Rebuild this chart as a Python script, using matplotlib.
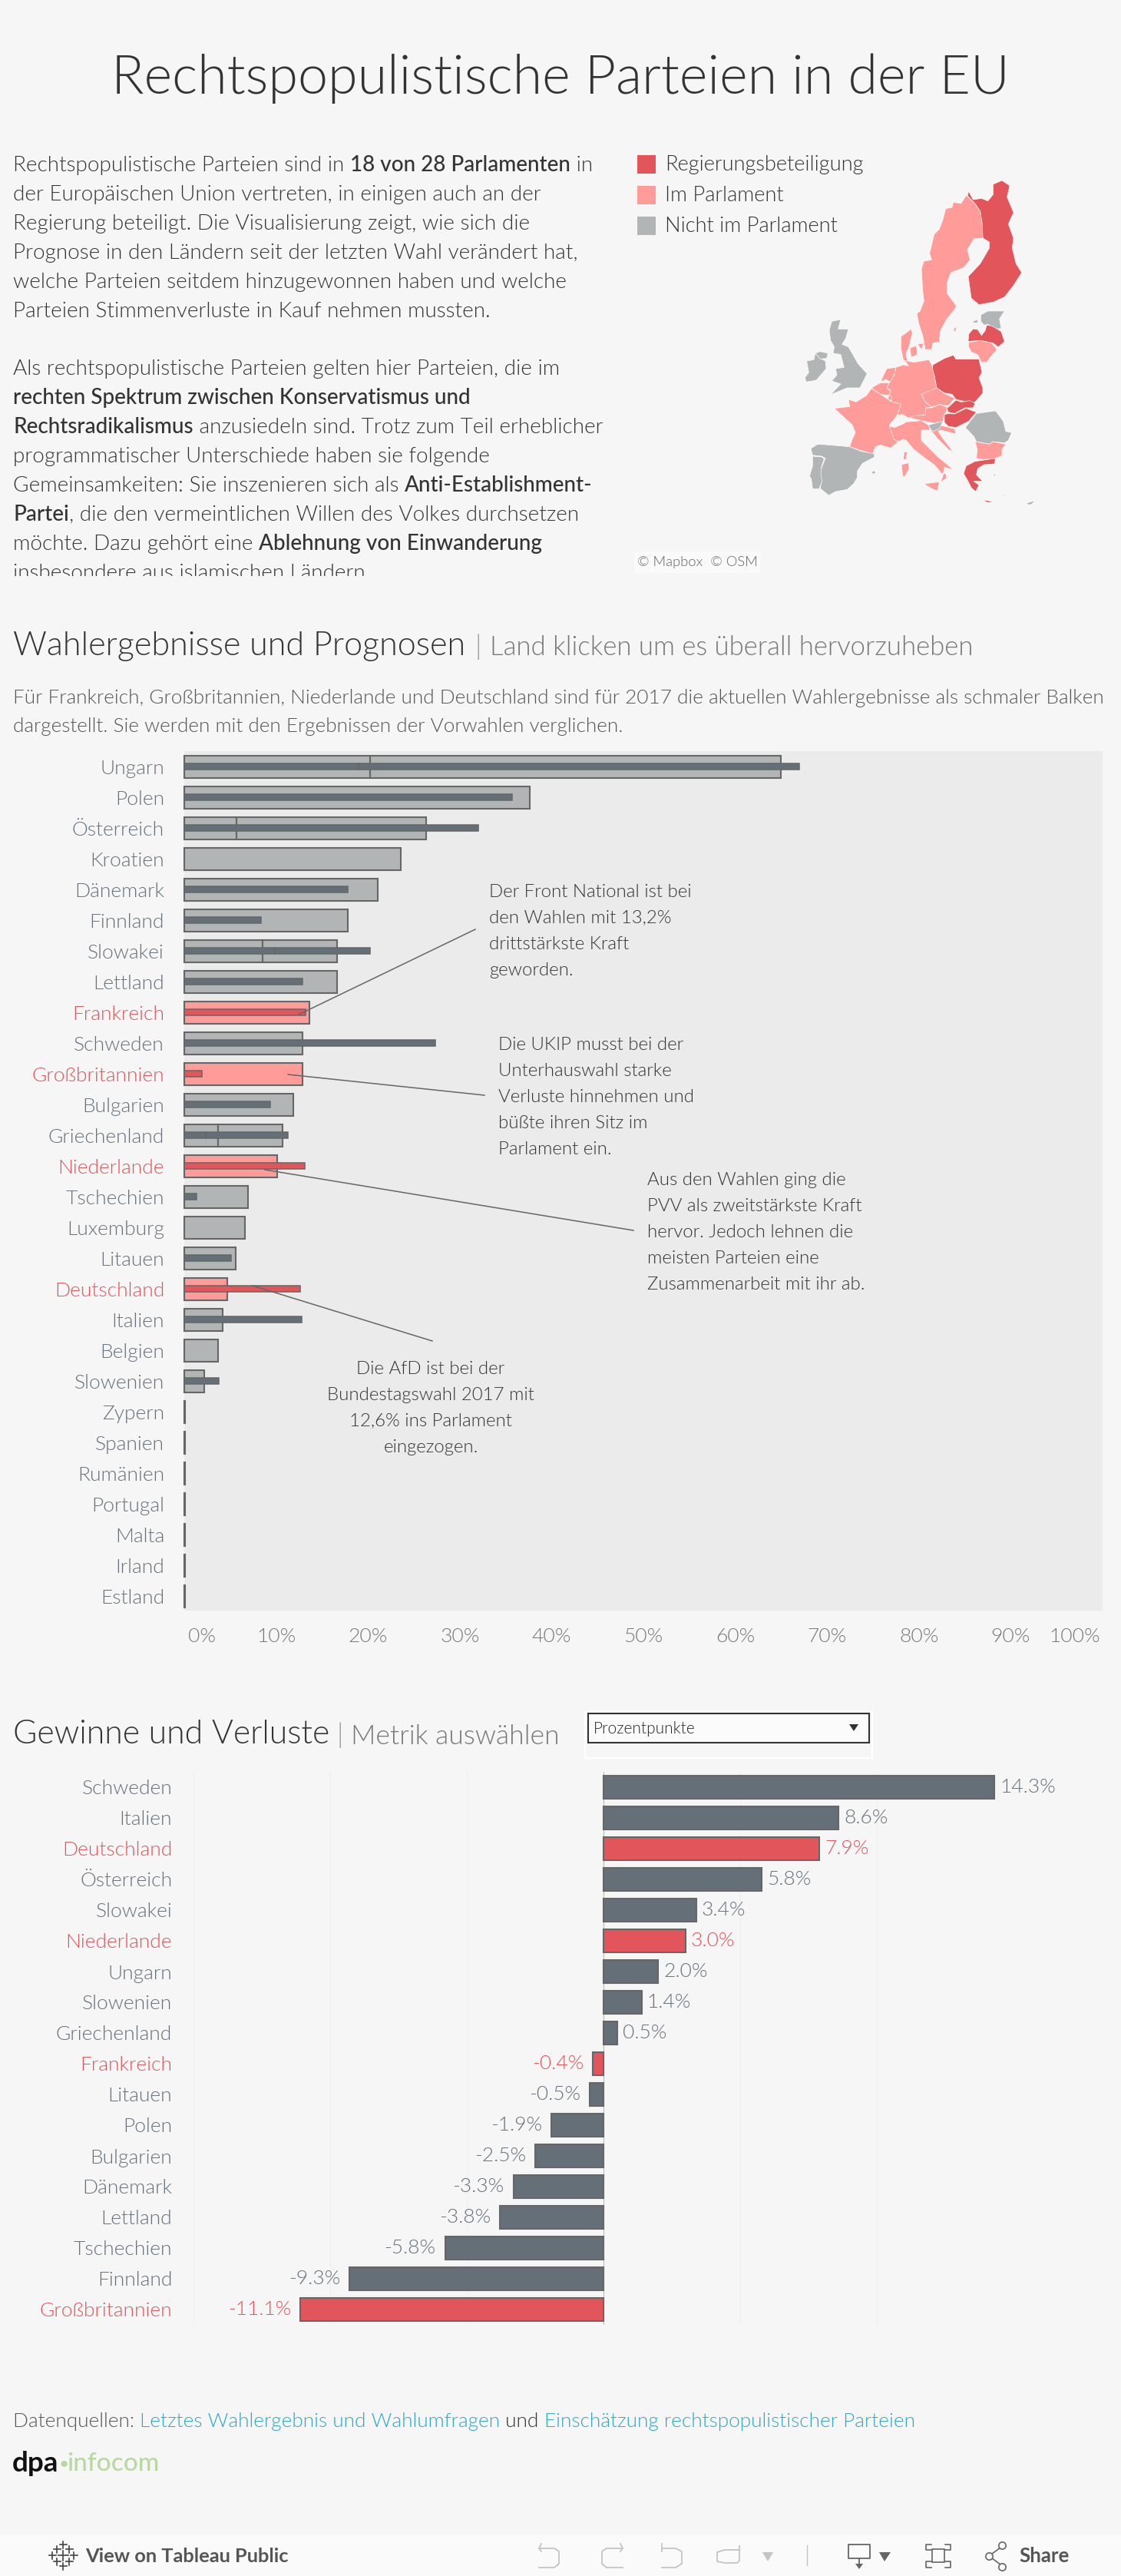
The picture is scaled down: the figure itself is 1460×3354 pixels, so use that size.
import os
import matplotlib
matplotlib.use('Agg')
import matplotlib.pyplot as plt
from matplotlib import font_manager as fm
from matplotlib.patches import Polygon, Rectangle
from matplotlib.transforms import ScaledTranslation

W, H = 1460, 3354
plt.rcParams['font.family'] = ['Lato', 'DejaVu Sans']

BG = '#F6F6F6'
PANEL = '#EBEBEB'
RED = '#E2565B'
LRED = '#FF9C9A'
GREY = '#B2B5B5'
SLATE = '#656F78'
EDGE = '#666666'
LABEL = '#66717C'
DARK = '#333333'
TEAL = '#2EA7C9'


def lato(namen):
    # schnitt ueber den dateinamen holen, weight='light' landet sonst bei hairline
    for n in namen:
        for f in fm.fontManager.ttflist:
            if os.path.basename(f.fname) == n:
                return f.fname
    return fm.findfont('Lato')


LIGHT = lato(['Lato-Light.ttf', 'Lato-Regular.ttf'])
MEDIUM = lato(['Lato-Medium.ttf', 'Lato-Semibold.ttf', 'Lato-Regular.ttf'])
BOLD = lato(['Lato-Bold.ttf', 'Lato-Regular.ttf'])
SCHNITT = {'light': LIGHT, 'normal': MEDIUM, 'bold': BOLD}


def fp(weight, size):
    return fm.FontProperties(fname=SCHNITT[weight], size=size)


# --- wahlergebnisse und prognosen
laender = ['Ungarn', 'Polen', 'Österreich', 'Kroatien', 'Dänemark', 'Finnland', 'Slowakei', 'Lettland',
           'Frankreich', 'Schweden', 'Großbritannien', 'Bulgarien', 'Griechenland', 'Niederlande',
           'Tschechien', 'Luxemburg', 'Litauen', 'Deutschland', 'Italien', 'Belgien', 'Slowenien',
           'Zypern', 'Spanien', 'Rumänien', 'Portugal', 'Malta', 'Irland', 'Estland']
wahl_a = [20.2, 37.6, 5.7, 23.6, 21.1, 17.8, 8.5, 16.6, 13.6, 12.9, 12.9, 11.9, 3.7, 10.1, 6.9, 6.6, 5.6, 4.7, 4.2,
          3.7, 2.2, 0.1, 0.1, 0.1, 0.1, 0.1, 0.1, 0.1]
wahl_b = [44.8, 0, 20.6, 0, 0, 0, 8.1, 0, 0, 0, 0, 0, 7.0, 0, 0, 0, 0, 0, 0, 0, 0, 0, 0, 0, 0, 0, 0, 0]
prog_a = [19.0, 35.7, 32.0, 0, 17.8, 8.4, 9.9, 12.9, 13.2, 27.3, 1.9, 9.4, 2.3, 13.1, 1.3, 0, 5.1, 12.6, 12.8, 0,
          3.8, 0, 0, 0, 0, 0, 0, 0]
prog_b = [48.0, 0, 0, 0, 0, 0, 10.3, 0, 0, 0, 0, 0, 9.0, 0, 0, 0, 0, 0, 0, 0, 0, 0, 0, 0, 0, 0, 0, 0]
markiert = ['Frankreich', 'Großbritannien', 'Niederlande', 'Deutschland']
achse = [0, 10, 20, 30, 40, 50, 60, 70, 80, 90, 100]

# --- gewinne und verluste
g_laender = ['Schweden', 'Italien', 'Deutschland', 'Österreich', 'Slowakei', 'Niederlande', 'Ungarn', 'Slowenien',
             'Griechenland', 'Frankreich', 'Litauen', 'Polen', 'Bulgarien', 'Dänemark', 'Lettland', 'Tschechien',
             'Finnland', 'Großbritannien']
g_werte = [14.3, 8.6, 7.9, 5.8, 3.4, 3.0, 2.0, 1.4, 0.5, -0.4, -0.5, -1.9, -2.5, -3.3, -3.8, -5.8, -9.3, -11.1]

A = (1180, 235)
B = (1180, 405)
C = (1040, 410)
D = (1040, 520)
E = (1180, 510)
finnland = [(245, 42), (262, 75), (295, 70), (320, 80), (340, 55), (340, 15), (375, 0), (405, 20), (395, 65),
            (420, 125), (400, 170), (420, 225), (415, 265), (430, 325), (452, 360), (420, 410), (385, 455),
            (340, 475), (285, 485), (255, 460), (243, 375), (290, 325), (325, 265), (325, 240), (300, 225),
            (290, 120), (265, 85), (240, 60)]
schweden = [(235, 58), (268, 88), (290, 120), (298, 170), (300, 225), (265, 228), (240, 270), (250, 310), (225, 340),
            (175, 360), (160, 400), (160, 440), (197, 490), (185, 510), (160, 540), (135, 585), (130, 630),
            (105, 635), (100, 660), (75, 660), (65, 605), (50, 560), (42, 520), (55, 510), (70, 470), (65, 430),
            (60, 345), (70, 315), (100, 310), (92, 285), (110, 210), (130, 190), (145, 150), (155, 110), (180, 105),
            (185, 85), (215, 90)]
estland = [(292, 15), (320, 0), (385, 0), (365, 30), (372, 68), (350, 70), (320, 52), (305, 55), (292, 40)]
saaremaa = [(262, 40), (280, 33), (280, 45), (262, 47)]
lettland = [(243, 118), (245, 90), (262, 70), (280, 72), (295, 95), (310, 75), (315, 55), (335, 58), (372, 80),
            (385, 120), (360, 140), (340, 125), (290, 115), (250, 118)]
litauen = [(245, 122), (290, 115), (335, 125), (355, 150), (330, 180), (315, 200), (295, 200), (280, 170), (255, 160),
           (245, 140)]
polen = [(105, 210), (150, 185), (185, 172), (195, 188), (285, 188), (297, 240), (285, 260), (300, 300), (300, 320),
         (270, 355), (240, 355), (215, 350), (195, 345), (180, 325), (150, 320), (120, 300), (110, 250), (100, 235)]
tschechien = [(60, 325), (100, 302), (120, 300), (150, 322), (190, 340), (165, 370), (130, 365), (100, 375), (75, 355)]
slowakei = [(160, 380), (195, 348), (215, 355), (250, 350), (270, 360), (262, 378), (230, 378), (190, 400), (165, 395)]
ungarn = [(150, 405), (165, 400), (190, 402), (235, 380), (275, 395), (245, 430), (225, 440), (195, 455), (165, 450),
          (150, 435)]
oesterreich = [(5, 408), (30, 410), (75, 405), (78, 378), (100, 378), (130, 365), (160, 375), (158, 395), (148, 405),
               (145, 430), (110, 438), (60, 428), (20, 418)]
slowenien = [(88, 445), (145, 430), (130, 460), (105, 470), (95, 460)]
gotland = [(185, 70), (200, 60), (190, 85)]
deutschland = [(380, 205), (410, 195), (430, 200), (415, 178), (450, 185), (510, 175), (520, 195), (530, 235),
               (540, 285), (480, 310), (495, 340), (520, 360), (498, 363), (495, 390), (450, 395), (430, 403),
               (405, 388), (385, 393), (400, 348), (365, 340), (350, 310), (360, 295), (345, 285), (355, 265), (375, 232)]
niederlande = [(345, 210), (380, 205), (375, 232), (358, 262), (340, 252), (320, 262), (330, 240)]
belgien = [(285, 285), (320, 265), (355, 265), (345, 285), (360, 300), (352, 315), (320, 310)]
luxemburg = [(352, 315), (362, 315), (365, 335), (350, 330)]
daenemark = [(400, 85), (440, 55), (445, 70), (430, 130), (420, 150), (425, 180), (410, 178), (400, 130)]
seeland = [(435, 130), (460, 120), (465, 155), (440, 165)]
fuenen = [(465, 115), (490, 110), (480, 135)]
frankreich = [(140, 365), (200, 358), (195, 330), (225, 340), (265, 315), (285, 287), (320, 310), (350, 330), (365, 340),
              (400, 348), (385, 393), (355, 430), (370, 445), (372, 485), (390, 495), (360, 520), (320, 508), (300, 515),
              (290, 542), (245, 530), (200, 515), (208, 490), (222, 460), (210, 430)]
irland = [(32, 180), (60, 175), (65, 150), (85, 170), (105, 180), (108, 210), (70, 255), (30, 262), (25, 245), (40, 225)]
nordirland = [(65, 150), (85, 143), (115, 150), (110, 170), (85, 172)]
britannien = [(120, 60), (130, 25), (165, 18), (155, 55), (195, 55), (185, 90), (170, 115), (195, 125), (232, 190),
              (268, 230), (255, 255), (240, 285), (190, 285), (125, 312), (165, 270), (130, 258), (150, 235), (145, 210),
              (178, 205), (165, 155), (135, 150), (140, 125), (125, 100)]
spanien = [(48, 192), (75, 175), (120, 178), (200, 185), (245, 203), (295, 212), (297, 225), (250, 250), (230, 280),
           (230, 305), (215, 330), (190, 352), (145, 360), (118, 375), (85, 348), (90, 320), (82, 290), (95, 255),
           (105, 230), (90, 222), (55, 218)]
portugal = [(55, 222), (90, 225), (100, 232), (90, 262), (87, 290), (92, 320), (80, 350), (55, 350), (50, 310), (43, 300),
            (55, 260)]
mallorca = [(285, 285), (295, 278), (302, 287), (292, 292)]
korsika = [(412, 205), (425, 205), (420, 235), (410, 235)]
sardinien = [(402, 255), (430, 248), (430, 275), (415, 302), (407, 300)]
italien = [(-65, 135), (-45, 140), (-10, 125), (0, 118), (60, 113), (88, 130), (95, 150), (60, 150), (60, 190), (95, 225),
           (125, 255), (150, 275), (185, 305), (150, 295), (145, 325), (135, 355), (160, 335), (155, 320), (140, 320),
           (110, 285), (75, 260), (30, 225), (0, 190), (-10, 185), (-30, 195), (-48, 185)]
sizilien = [(70, 360), (130, 352), (122, 388), (100, 378)]
kroatien = [(95, 155), (130, 130), (190, 145), (195, 165), (135, 150), (125, 155), (150, 190), (185, 235), (165, 225),
            (120, 180), (105, 160)]
rumaenien = [(232, 140), (275, 85), (350, 75), (380, 115), (390, 155), (413, 160), (400, 190), (385, 200), (340, 195),
             (325, 205), (275, 195), (265, 175)]
bulgarien = [(270, 195), (325, 205), (340, 195), (390, 205), (375, 225), (375, 250), (345, 262), (300, 265), (275, 260),
             (278, 225)]
griechenland = [(225, 320), (235, 290), (270, 272), (340, 262), (350, 262), (345, 282), (305, 285), (280, 300), (275, 325),
                (300, 350), (265, 350), (285, 365), (272, 390), (255, 375), (243, 350)]
kreta = [(295, 422), (345, 430), (320, 433)]
lesbos = [(342, 323), (352, 325), (345, 330)]
rhodos = [(378, 400), (384, 405), (380, 410)]
zypern = [(472, 435), (505, 425), (490, 440), (478, 442)]

karte = [(A, finnland, RED), (A, schweden, LRED), (B, estland, GREY), (B, saaremaa, GREY), (B, lettland, RED),
         (B, litauen, LRED), (B, polen, RED), (B, tschechien, LRED), (B, slowakei, RED), (B, ungarn, RED),
         (B, oesterreich, LRED), (B, gotland, LRED), (C, deutschland, LRED), (C, niederlande, LRED), (C, belgien, LRED),
         (C, luxemburg, LRED), (C, daenemark, LRED), (C, seeland, LRED), (C, fuenen, LRED), (C, frankreich, LRED),
         (C, irland, GREY), (C, nordirland, GREY), (C, britannien, GREY), (D, spanien, GREY), (D, portugal, GREY),
         (D, mallorca, GREY), (D, korsika, LRED), (D, sardinien, LRED), (E, italien, LRED), (E, sizilien, LRED),
         (E, kroatien, LRED), (B, slowenien, GREY), (E, rumaenien, GREY), (E, bulgarien, LRED), (E, griechenland, RED),
         (E, kreta, RED), (E, lesbos, RED), (E, rhodos, RED), (E, zypern, GREY)]


def box(x0, y0, x1, y1):
    return [x0 / W, 1 - y1 / H, (x1 - x0) / W, (y1 - y0) / H]


fig = plt.figure(figsize=(W / 100, H / 100), dpi=100, facecolor=BG)
renderer = fig.canvas.get_renderer()

# overlay in pixeln fuer alle texte
ov = fig.add_axes([0, 0, 1, 1], zorder=5)
ov.set_xlim(0, W)
ov.set_ylim(H, 0)
ov.axis('off')


def rich(x, y, parts, size):
    # text aus mehreren stuecken nacheinander setzen
    for s, weight, col in parts:
        t = ov.text(x, y, s, fontproperties=fp(weight, size), color=col, va='center', ha='left')
        x += t.get_window_extent(renderer).width
    return x


# --- kopf
ov.text(730, 102, 'Rechtspopulistische Parteien in der EU', fontproperties=fp('light', 50.4), color=DARK,
        ha='center', va='center')

L, M = 'light', 'normal'
absatz = [
    (215, [('Rechtspopulistische Parteien sind in ', L), ('18 von 28 Parlamenten', M), (' in', L)]),
    (253, [('der Europäischen Union vertreten, in einigen auch an der', L)]),
    (291, [('Regierung beteiligt. Die Visualisierung zeigt, wie sich die', L)]),
    (329, [('Prognose in den Ländern seit der letzten Wahl verändert hat,', L)]),
    (367, [('welche Parteien seitdem hinzugewonnen haben und welche', L)]),
    (405, [('Parteien Stimmenverluste in Kauf nehmen mussten.', L)]),
    (480, [('Als rechtspopulistische Parteien gelten hier Parteien, die im', L)]),
    (518, [('rechten Spektrum zwischen Konservatismus und', M)]),
    (556, [('Rechtsradikalismus', M), (' anzusiedeln sind. Trotz zum Teil erheblicher', L)]),
    (594, [('programmatischer Unterschiede haben sie folgende', L)]),
    (632, [('Gemeinsamkeiten: Sie inszenieren sich als ', L), ('Anti-Establishment-', M)]),
    (670, [('Partei', M), (', die den vermeintlichen Willen des Volkes durchsetzen', L)]),
    (708, [('möchte. Dazu gehört eine ', L), ('Ablehnung von Einwanderung', M)]),
    (746, [('insbesondere aus islamischen Ländern', L)]),
]
for y, parts in absatz:
    rich(17, y, [(s, w, DARK) for s, w in parts], 20.1)
ov.add_patch(Rectangle((0, 750), 820, 30, facecolor=BG, edgecolor='none', zorder=4))

legende = [('Regierungsbeteiligung', RED, 214), ('Im Parlament', LRED, 254), ('Nicht im Parlament', GREY, 294)]
for s, col, y in legende:
    ov.add_patch(Rectangle((830, y - 12), 24, 24, facecolor=col, edgecolor='none'))
    ov.text(866, y, s, fontproperties=fp('light', 19.6), color=DARK, va='center')

# --- karte
mp = fig.add_axes(box(1030, 230, 1360, 690), zorder=2)
mp.set_xlim(1030, 1360)
mp.set_ylim(690, 230)
mp.axis('off')
for origin, pts, col in karte:
    xy = [(origin[0] + p[0] / 3, origin[1] + p[1] / 3) for p in pts]
    mp.add_patch(Polygon(xy, closed=True, facecolor=col, edgecolor='white', lw=0.45, joinstyle='round'))

ov.add_patch(Rectangle((826, 718), 164, 28, facecolor='#FAFAFA', edgecolor='none'))
ov.text(830, 732, '© Mapbox  © OSM', fontproperties=fp('light', 13.2), color='#666666', va='center')

# --- wahlergebnisse
rich(17, 841, [('Wahlergebnisse und Prognosen', L, DARK)], 31.1)
ov.text(623, 842, '|', fontproperties=fp('light', 25.5), color='#999999', ha='center', va='center')
rich(638, 843, [('Land klicken um es überall hervorzuheben', L, '#777777')], 25)
ov.text(17, 909, 'Für Frankreich, Großbritannien, Niederlande und Deutschland sind für 2017 die aktuellen '
        'Wahlergebnisse als schmaler Balken', fontproperties=fp('light', 18.8), color='#555555', va='center')
ov.text(17, 946, 'dargestellt. Sie werden mit den Ergebnissen der Vorwahlen verglichen.',
        fontproperties=fp('light', 18.8), color='#555555', va='center')

ax = fig.add_axes(box(240, 978, 1436, 2097), zorder=1)
ax.set_facecolor(PANEL)
ax.set_xlim(0, 100)
ax.set_ylim(27.4625, -0.5125)
for s in ax.spines.values():
    s.set_visible(False)
for i, land in enumerate(laender):
    hell = LRED if land in markiert else GREY
    dunkel = RED if land in markiert else SLATE
    ax.barh(i, wahl_a[i], height=0.74, color=hell, edgecolor=EDGE, lw=1.5, clip_on=False)
    if wahl_b[i] > 0:
        ax.barh(i, wahl_b[i], left=wahl_a[i], height=0.74, color=hell, edgecolor=EDGE, lw=1.5, clip_on=False)
    if prog_a[i] > 0:
        ax.barh(i - 0.025, prog_a[i], height=0.2, color=dunkel, edgecolor=EDGE, lw=1.1, clip_on=False)
    if prog_b[i] > 0:
        ax.barh(i - 0.025, prog_b[i], left=prog_a[i], height=0.2, color=dunkel, edgecolor=EDGE, lw=1.1, clip_on=False)
ax.set_yticks(range(len(laender)))
ax.set_yticklabels(laender, fontproperties=fp('light', 19))
for lab in ax.get_yticklabels():
    lab.set_color(RED if lab.get_text() in markiert else LABEL)
ax.set_xticks(achse)
ax.set_xticklabels([f'{v}%' for v in achse], fontproperties=fp('light', 19), color='#777777')
ax.tick_params(axis='y', length=0, pad=18.7)
ax.tick_params(axis='x', length=0, pad=16)
erste, letzte = ax.get_xticklabels()[0], ax.get_xticklabels()[-1]
erste.set_ha('left')
letzte.set_ha('right')
erste.set_transform(erste.get_transform() + ScaledTranslation(0.05, 0, fig.dpi_scale_trans))
letzte.set_transform(letzte.get_transform() + ScaledTranslation(-0.03, 0, fig.dpi_scale_trans))

# anmerkungen
notizen = [
    (637, [1161, 1195, 1229, 1263], 'left',
     ['Der Front National ist bei', 'den Wahlen mit 13,2%', 'drittstärkste Kraft', 'geworden.']),
    (649, [1360, 1394, 1428, 1462, 1496], 'left',
     ['Die UKIP musst bei der', 'Unterhauswahl starke', 'Verluste hinnehmen und', 'büßte ihren Sitz im', 'Parlament ein.']),
    (843, [1536, 1570, 1604, 1638, 1672], 'left',
     ['Aus den Wahlen ging die', 'PVV als zweitstärkste Kraft', 'hervor. Jedoch lehnen die', 'meisten Parteien eine',
      'Zusammenarbeit mit ihr ab.']),
    (561, [1782, 1816, 1850, 1884], 'center',
     ['Die AfD ist bei der', 'Bundestagswahl 2017 mit', '12,6% ins Parlament', 'eingezogen.']),
]
for x, ys, ha, zeilen in notizen:
    for y, s in zip(ys, zeilen):
        ov.text(x, y, s, fontproperties=fp('light', 17.3), color=DARK, ha=ha, va='center')
linien = [((619, 1210), (389, 1321)), ((375, 1399), (631, 1426)), ((345, 1523), (825, 1602)), ((329, 1674), (563, 1746))]
for p, q in linien:
    ov.plot([p[0], q[0]], [p[1], q[1]], color=EDGE, lw=1.1)

# --- gewinne und verluste
rich(17, 2258, [('Gewinne und Verluste', L, DARK)], 30.8)
ov.text(443, 2259, '|', fontproperties=fp('light', 25.5), color='#999999', ha='center', va='center')
rich(457, 2261, [('Metrik auswählen', L, '#777777')], 25.6)
ov.add_patch(Rectangle((762, 2228), 374, 61, facecolor='none', edgecolor='white', lw=1.4))
ov.add_patch(Rectangle((766, 2231), 366, 38, facecolor='#FBFBFB', edgecolor='#333333', lw=1.5))
ov.text(773, 2251, 'Prozentpunkte', fontproperties=fp('light', 15), color='#222222', va='center')
ov.add_patch(Polygon([(1106, 2245), (1118, 2245), (1112, 2254)], facecolor='#333333', edgecolor='none'))

bx = fig.add_axes(box(252, 2307, 1320, 3027), zorder=1)
bx.set_facecolor('none')
bx.set_xlim(-15, 15)
bx.set_ylim(17.5, -0.5)
for s in bx.spines.values():
    s.set_visible(False)
bx.set_xticks([-15, -10, -5, 5, 10, 15])
bx.grid(axis='x', color='#EFEFEF', lw=0.8)
bx.axvline(0, color='#BBBBBB', lw=0.8, zorder=1)
bx.set_axisbelow(True)
for i, land in enumerate(g_laender):
    col = RED if land in markiert else SLATE
    bx.barh(i, g_werte[i], height=0.74, color=col, edgecolor=EDGE, lw=1.5, zorder=2)
    v = g_werte[i]
    off, ha = (5, 'left') if v > 0 else (-8.5, 'right')
    bx.annotate(f'{v:.1f}%', (v, i), xytext=(off, 0), textcoords='offset points', ha=ha, va='center',
                fontproperties=fp('light', 19), color=RED if land in markiert else LABEL)
bx.set_yticks(range(len(g_laender)))
bx.set_yticklabels(g_laender, fontproperties=fp('light', 19))
for lab in bx.get_yticklabels():
    lab.set_color(RED if lab.get_text() in markiert else LABEL)
bx.tick_params(axis='y', length=0, pad=20)
bx.tick_params(axis='x', length=0, labelbottom=False)

# --- quellen
rich(17, 3153, [('Datenquellen: ', L, '#555555'), ('Letztes Wahlergebnis und Wahlumfragen', L, TEAL), (' und ', L, '#333333'),
                ('Einschätzung rechtspopulistischer Parteien', L, TEAL)], 18.9)
x = rich(16, 3208, [('dpa', 'bold', '#111111')], 26.5)
ov.text(x + 1, 3208, '•', fontproperties=fp('bold', 14), color='#B7D9A0', va='center')
ov.text(x + 11, 3208, 'infocom', fontproperties=fp('normal', 24), color='#B7D9A0', va='center')

# --- toolbar
ov.add_patch(Rectangle((0, 3300), W, 54, facecolor='#FAFAFA', edgecolor='none'))
for dx, dy, s in [(0, 0, 2), (-8, -8, 1), (8, -8, 1), (-8, 8, 1), (8, 8, 1), (-14, 0, 1), (14, 0, 1), (0, -14, 1), (0, 14, 1)]:
    r = 2.5 + 2 * s
    ov.plot([82 + dx - r, 82 + dx + r], [3327 + dy] * 2, color='#444444', lw=1.2)
    ov.plot([82 + dx] * 2, [3327 + dy - r, 3327 + dy + r], color='#444444', lw=1.2)
ov.text(111, 3328, 'View on Tableau Public', fontproperties=fp('bold', 18.3), color='#555555', va='center')
ov.text(1327, 3328, 'Share', fontproperties=fp('bold', 18.5), color='#555555', va='center')
hell = '#C4C4C4'
ov.plot([702, 722, 728, 728, 722, 702], [3318, 3318, 3322, 3338, 3343, 3343], color=hell, lw=1.3)
ov.plot([705, 702, 705], [3312, 3318, 3322], color=hell, lw=1.3)
ov.plot([811, 790, 784, 784, 790, 811], [3318, 3318, 3322, 3338, 3343, 3343], color=hell, lw=1.3)
ov.plot([808, 811, 808], [3312, 3318, 3322], color=hell, lw=1.3)
ov.plot([862, 880, 888, 888, 880, 862], [3318, 3318, 3322, 3338, 3343, 3343], color=hell, lw=1.3)
ov.plot([862, 862], [3312, 3322], color=hell, lw=1.3)
ov.plot([963, 944, 934, 934, 944, 960, 963, 963], [3320, 3320, 3323, 3335, 3337, 3337, 3334, 3315], color=hell, lw=1.3)
ov.add_patch(Polygon([(993, 3323), (1007, 3323), (1000, 3335)], facecolor=hell, edgecolor='none'))
ov.plot([1051, 1051], [3314, 3340], color=hell, lw=1)
d = '#666666'
ov.plot([1119, 1105, 1105, 1133, 1133, 1119, 1119], [3331, 3331, 3313, 3313, 3331, 3331, 3340], color=d, lw=1.3)
ov.add_patch(Polygon([(1114, 3338), (1124, 3338), (1119, 3345)], facecolor=d, edgecolor='none'))
ov.add_patch(Polygon([(1145, 3323), (1160, 3323), (1152, 3335)], facecolor=d, edgecolor='none'))
ov.add_patch(Rectangle((1214, 3319), 16, 17, facecolor='none', edgecolor=d, lw=1.2))
for xs, ys in [([1213, 1206, 1206, 1213], [3313, 3313, 3320, 3320]), ([1231, 1238, 1238, 1231], [3313, 3313, 3320, 3320]),
               ([1213, 1206, 1206, 1213], [3343, 3343, 3335, 3335]), ([1231, 1238, 1238, 1231], [3343, 3343, 3335, 3335])]:
    ov.plot(xs, ys, color=d, lw=1.2)
ov.plot([1303, 1288, 1303], [3317, 3328, 3339], color=d, lw=1.2)
ov.scatter([1305, 1288, 1305], [3314, 3328, 3342], s=45, facecolor='#FAFAFA', edgecolor=d, lw=1.2, zorder=6)

fig.savefig('out.png', dpi=100, facecolor=BG)
